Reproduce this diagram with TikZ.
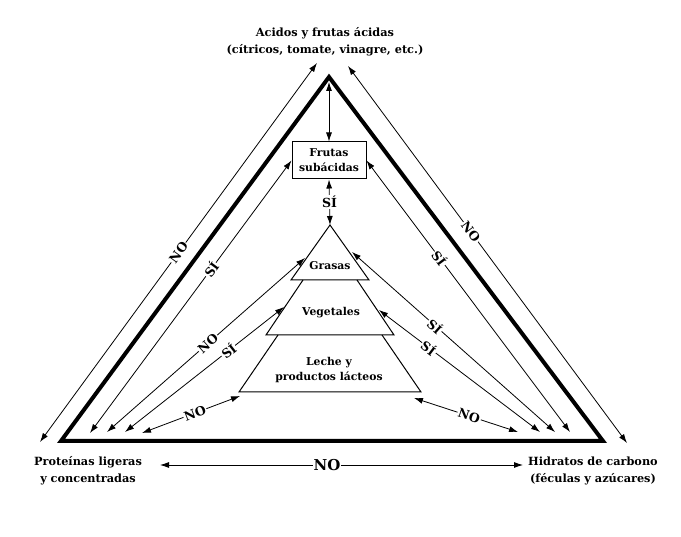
\documentclass[tikz,border=0pt]{standalone}
\usepackage{fontspec}
\setmainfont{DejaVu Serif}
\usetikzlibrary{arrows.meta}
\begin{document}
\begin{tikzpicture}[x=1pt, y=-1pt,
  link/.style={{Latex[length=9pt,width=6pt]}-{Latex[length=9pt,width=6pt]}, line width=0.8pt},
  tag/.style={fill=white, sloped, inner sep=1pt, font=\fontsize{12.5}{14}\selectfont\bfseries},
  caption/.style={align=center, font=\fontsize{11.3}{17}\selectfont\bfseries},
  tier/.style={line width=1pt, line join=miter},
  food/.style={align=center, font=\fontsize{10.8}{15}\selectfont\bfseries}]

  \useasboundingbox (0,0) rectangle (681,537);

  % the big triangle
  \coordinate (apex) at (329,77);
  \coordinate (left) at (61,441);
  \coordinate (right) at (603,441);
  \draw[line width=4pt, line join=miter] (apex) -- (left) -- (right) -- cycle;

  \node[caption] (acid) at (325,42) {Acidos y frutas ácidas\\(cítricos, tomate, vinagre, etc.)};
  \node[caption] (prot) at (88,471) {Proteínas ligeras\\y concentradas};
  \node[caption] (hidr) at (593,471) {Hidratos de carbono\\(féculas y azúcares)};

  % box and pyramid
  \node[draw, line width=1pt, minimum width=74pt, minimum height=37pt, inner sep=1pt, food] (frutas) at (329,160.5) {Frutas\\subácidas};

  \coordinate (tip) at (330,225);
  \draw[tier] (tip) -- (291,280) -- (369,280) -- cycle;
  \draw[tier] (303,280) -- (266,335) -- (394,335) -- (357,280);
  \draw[tier] (278,335) -- (239,392) -- (421,392) -- (382,335);
  \node[food] (grasas) at (330,266) {Grasas};
  \node[food] (veg) at (331,313) {Vegetales};
  \node[food] (leche) at (329,370) {Leche y\\productos lácteos};

  % free ends of the arrows
  \coordinate (acidL) at (317,63);
  \coordinate (protO) at (40,442);
  \coordinate (acidR) at (348,66);
  \coordinate (hidrO) at (627,443);
  \coordinate (top) at (329,82);
  \coordinate (p1) at (90,433);
  \coordinate (p2) at (107,432);
  \coordinate (p3) at (125,432);
  \coordinate (p4) at (142,433);
  \coordinate (h1) at (570,432);
  \coordinate (h2) at (555,432);
  \coordinate (h3) at (540,432);
  \coordinate (h4) at (518,432);
  \coordinate (grasasL) at (305,258);
  \coordinate (grasasR) at (352,252);
  \coordinate (vegL) at (284,307);
  \coordinate (vegR) at (379,310);
  \coordinate (lecheL) at (240,396);
  \coordinate (lecheR) at (414,398);
  \coordinate (protE) at (160,465);
  \coordinate (hidrW) at (523,465);

  \draw[link] (protO) -- (acidL) node[tag, pos=0.5] {NO};
  \draw[link] (acidR) -- (hidrO) node[tag, pos=0.44] {NO};
  \draw[link] (top) -- (frutas.north);
  \draw[link] (frutas.south) -- (tip) node[tag, midway, sloped=false] {SÍ};

  \draw[link] (p1) -- (frutas.west) node[tag, pos=0.6] {SÍ};
  \draw[link] (p2) -- (grasasL) node[tag, pos=0.51] {NO};
  \draw[link] (p3) -- (vegL) node[tag, pos=0.65] {SÍ};
  \draw[link] (p4) -- (lecheL) node[tag, pos=0.54] {NO};

  \draw[link] (frutas.east) -- (h1) node[tag, pos=0.36] {SÍ};
  \draw[link] (grasasR) -- (h2) node[tag, pos=0.41] {SÍ};
  \draw[link] (vegR) -- (h3) node[tag, pos=0.31] {SÍ};
  \draw[link] (lecheR) -- (h4) node[tag, pos=0.53] {NO};

  \draw[link] (protE) -- (hidrW) node[tag, pos=0.46, font=\fontsize{15}{17}\selectfont\bfseries] {NO};

\end{tikzpicture}
\end{document}
